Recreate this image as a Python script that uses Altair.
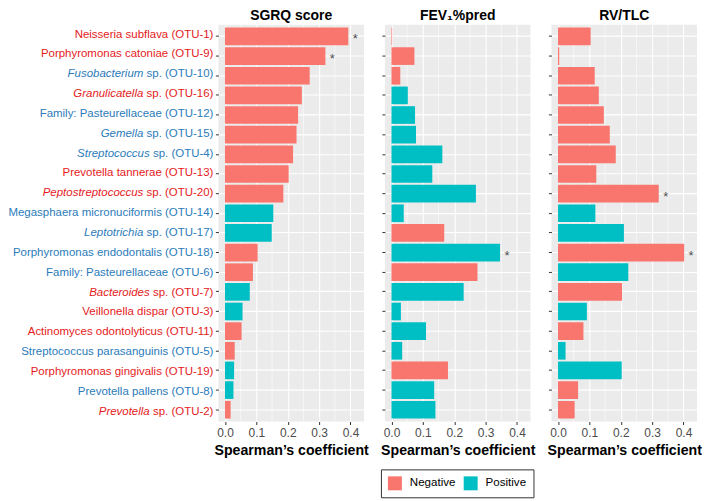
import altair as alt
import pandas as pd

# ---- data (top to bottom) ----
otus = ["OTU-1", "OTU-9", "OTU-10", "OTU-16", "OTU-12", "OTU-15", "OTU-4", "OTU-13",
        "OTU-20", "OTU-14", "OTU-17", "OTU-18", "OTU-6", "OTU-7", "OTU-3", "OTU-11",
        "OTU-5", "OTU-19", "OTU-8", "OTU-2"]
names = ["Neisseria subflava", "Porphyromonas catoniae", "Fusobacterium", "Granulicatella",
         "Family: Pasteurellaceae", "Gemella", "Streptococcus", "Prevotella tannerae",
         "Peptostreptococcus", "Megasphaera micronuciformis", "Leptotrichia",
         "Porphyromonas endodontalis", "Family: Pasteurellaceae", "Bacteroides",
         "Veillonella dispar", "Actinomyces odontolyticus", "Streptococcus parasanguinis",
         "Porphyromonas gingivalis", "Prevotella pallens", "Prevotella"]
genus_only = [0, 0, 1, 1, 0, 1, 1, 0, 1, 0, 1, 0, 0, 1, 0, 0, 0, 0, 0, 1]
label_colour = ["red", "red", "blue", "red", "blue", "blue", "blue", "red", "red", "blue",
                "blue", "blue", "blue", "red", "red", "red", "blue", "red", "blue", "red"]

sgrq = [0.393, 0.320, 0.270, 0.245, 0.233, 0.228, 0.217, 0.203, 0.186, 0.154,
        0.149, 0.104, 0.089, 0.079, 0.056, 0.053, 0.031, 0.029, 0.027, 0.018]
sgrq_dir = ["Negative"] * 9 + ["Positive", "Positive", "Negative", "Negative", "Positive",
                               "Positive", "Negative", "Negative", "Positive", "Positive", "Negative"]
sgrq_sig = [1, 1] + [0] * 18

fev = [0.002, 0.073, 0.028, 0.052, 0.075, 0.078, 0.162, 0.130, 0.269, 0.039,
       0.168, 0.346, 0.274, 0.230, 0.030, 0.110, 0.034, 0.180, 0.136, 0.140]
fev_dir = ["Negative", "Negative", "Negative", "Positive", "Positive", "Positive", "Positive",
           "Positive", "Positive", "Positive", "Negative", "Positive", "Negative", "Positive",
           "Positive", "Positive", "Positive", "Negative", "Positive", "Positive"]
fev_sig = [0] * 11 + [1] + [0] * 8

rv = [0.104, 0.004, 0.117, 0.130, 0.146, 0.165, 0.184, 0.122, 0.321, 0.119,
      0.210, 0.402, 0.224, 0.204, 0.092, 0.081, 0.024, 0.203, 0.064, 0.053]
rv_dir = ["Negative"] * 9 + ["Positive", "Positive", "Negative", "Positive", "Negative",
                             "Positive", "Negative", "Positive", "Positive", "Negative", "Negative"]
rv_sig = [0] * 8 + [1, 0, 0, 1] + [0] * 8

major_ticks = [0.0, 0.1, 0.2, 0.3, 0.4]
minor_ticks = [0.05, 0.15, 0.25, 0.35]

# ---- styling ----
FONT = "Liberation Sans"
LAB_FS = 11.5
LAB_W = 205
PANEL_W = 146
PANEL_H = 398
RED = "#E41A1C"
BLUE = "#2B7BBA"
# Arial / Liberation Sans advance widths (per 1000 em) for label suffixes
char_w = {" ": 278, "s": 500, "p": 556, ".": 278, "(": 333, ")": 333, "O": 778,
          "T": 611, "U": 722, "-": 333}
for d in "0123456789":
    char_w[d] = 556

genus_txt, rest_txt, offs = [], [], []
for n, o, g in zip(names, otus, genus_only):
    if g:
        suffix = " sp. (" + o + ")"
        genus_txt.append(n)
        rest_txt.append(suffix)
        offs.append(-sum(char_w[c] for c in suffix) * LAB_FS / 1000.0)
    else:
        genus_txt.append("")
        rest_txt.append(n + " (" + o + ")")
        offs.append(0.0)

lab_df = pd.DataFrame({"otu": otus, "genus": genus_txt, "rest": rest_txt, "gx": offs,
                       "zero": [0.0] * len(otus),
                       "lc": [RED if c == "red" else BLUE for c in label_colour]})

title_style = dict(fontSize=14, fontWeight="bold", font=FONT, anchor="middle",
                   color="black", offset=1)

yscale = alt.Scale(paddingInner=0.1, paddingOuter=0.15)
xs_lab = alt.Scale(domain=[-LAB_W, 0], nice=False, zero=False)
y_lab = alt.Y("otu:N", sort=otus, scale=yscale, axis=None)

rest_t = alt.Chart(lab_df).mark_text(align="right", baseline="middle", font=FONT,
                                     fontSize=LAB_FS).encode(
    x=alt.X("zero:Q", scale=xs_lab, axis=None), y=y_lab, text="rest:N",
    color=alt.Color("lc:N", scale=None))
genus_t = alt.Chart(lab_df).transform_filter("datum.genus != ''").mark_text(
    align="right", baseline="middle", font=FONT, fontSize=LAB_FS, fontStyle="italic").encode(
    x=alt.X("gx:Q", scale=xs_lab, axis=None), y=y_lab, text="genus:N",
    color=alt.Color("lc:N", scale=None))
labels = alt.layer(rest_t, genus_t).properties(
    width=LAB_W, height=PANEL_H, title=alt.TitleParams(" ", **title_style))

legend = alt.Legend(title=None, orient="none", legendX=373, legendY=446, direction="horizontal",
                    symbolType="square", symbolSize=196, symbolStrokeWidth=0,
                    labelFontSize=11.6, labelColor="black", labelFont=FONT, labelOffset=8,
                    columnPadding=8, padding=7, strokeColor="#333333", symbolOpacity=1)

minor_df = pd.DataFrame({"v": minor_ticks})


def panel(vals, dirs, sig, title):
    df = pd.DataFrame({"otu": otus, "value": vals, "dir": dirs, "zero": [0.0] * len(otus),
                       "star": ["*" if s else "" for s in sig]})
    xsc = alt.Scale(domain=[-0.021, 0.443], nice=False, zero=False)
    xax = alt.Axis(values=major_ticks, tickCount=5, format=".1f",
                   title="Spearman’s coefficient",
                   titleFontSize=14.2, titleFontWeight="bold", titleColor="black",
                   titlePadding=5, titleFont=FONT, labelFontSize=12, labelColor="#4D4D4D",
                   labelPadding=3, labelFlush=False, labelOverlap=False, labelSeparation=0,
                   labelBound=False, domain=False,
                   tickSize=3, tickColor="#333333", grid=True, gridColor="white",
                   gridWidth=1.1)
    y = alt.Y("otu:N", sort=otus, scale=yscale,
              axis=alt.Axis(labels=False, title=None, domain=False, ticks=True, tickSize=3,
                            tickColor="#333333", grid=True, gridColor="white", gridWidth=1.1,
                            bandPosition=0.5))
    minor = alt.Chart(minor_df).mark_rule(color="white", strokeWidth=0.55).encode(
        x=alt.X("v:Q", scale=xsc, axis=xax))
    bars = alt.Chart(df).mark_bar().encode(
        x=alt.X("value:Q", scale=xsc, axis=xax), x2="zero:Q", y=y,
        color=alt.Color("dir:N", scale=alt.Scale(domain=["Negative", "Positive"],
                                                 range=["#F8766D", "#00BFC4"]), legend=legend))
    stars = alt.Chart(df).transform_filter("datum.star != ''").mark_text(
        align="center", baseline="middle", dx=7, dy=3, fontSize=13, color="#4D4D4D",
        font=FONT).encode(x=alt.X("value:Q", scale=xsc, axis=xax), y=y, text="star:N")
    return alt.layer(minor, bars, stars).properties(
        width=PANEL_W, height=PANEL_H,
        title=alt.TitleParams(title, **title_style),
        view=alt.ViewBackground(fill="#EBEBEB", strokeWidth=0))


p1 = panel(sgrq, sgrq_dir, sgrq_sig, "SGRQ score")
p2 = panel(fev, fev_dir, fev_sig, "FEV₁%pred")
p3 = panel(rv, rv_dir, rv_sig, "RV/TLC")

left = alt.hconcat(labels, p1, spacing=0)
chart = alt.hconcat(left, p2, p3, spacing=11).properties(
    padding=0).configure(font=FONT).configure_view(strokeWidth=0)

chart.save("out.html", embed_options={"renderer": "svg", "actions": False})
